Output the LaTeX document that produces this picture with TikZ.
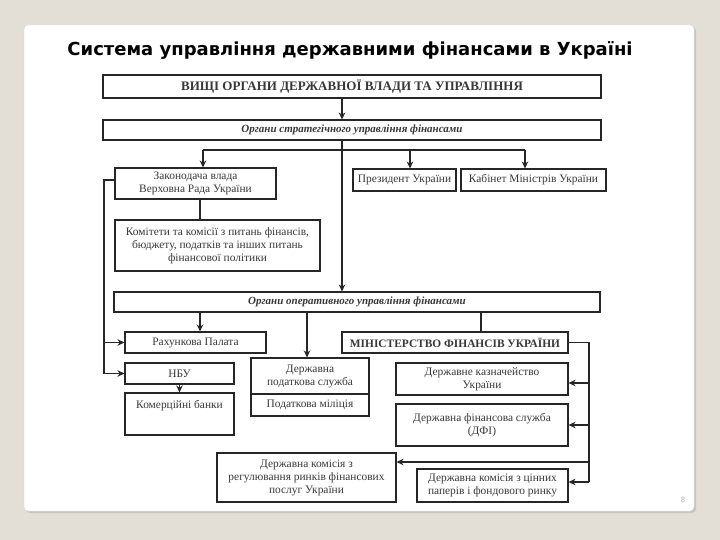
\documentclass[tikz,border=0pt]{standalone}
\usepackage{fontspec}
\setmainfont{Liberation Serif}
\newfontfamily\titlefont{DejaVu Sans}
\usetikzlibrary{arrows.meta}
\definecolor{bg}{HTML}{E3DED6}
\definecolor{ink}{HTML}{262626}
\definecolor{txt}{HTML}{383838}
\begin{document}
\begin{tikzpicture}[x=1pt,y=-1pt,
  box/.style={draw=ink, line width=1.1pt, fill=white, inner sep=1pt, align=center,
    font=\fontsize{11.4}{13}\selectfont, text=txt},
  arr/.style={draw=ink, line width=1.1pt, -{Stealth[length=7pt,width=6.5pt]}},
  ln/.style={draw=ink, line width=1.1pt}]
\fill[bg] (0,0) rectangle (720,540);
\useasboundingbox (0,0) rectangle (720,540);
% card
\fill[gray!45, rounded corners=4pt] (26,27) rectangle (696,513);
\draw[draw=gray!30, fill=white, rounded corners=4pt] (24,25) rectangle (694,511);
\node[font=\titlefont\bfseries, text=black, inner sep=0pt] (title) at (350,50)
  {\resizebox{565pt}{!}{Система управління державними фінансами в Україні}};
\node[font=\fontsize{8}{9}\selectfont, text=gray!70, inner sep=0pt] (pg) at (683,500) {8};
% boxes
\node[box, minimum width=498, minimum height=23, font=\fontsize{13}{14}\selectfont\bfseries] (top) at (352,86.5)
  {ВИЩІ ОРГАНИ ДЕРЖАВНОЇ ВЛАДИ ТА УПРАВЛІННЯ};
\node[box, minimum width=498, minimum height=20, font=\fontsize{11}{12}\selectfont\bfseries\itshape] (strat) at (352,130)
  {Органи стратегічного управління фінансами};
\node[box, minimum width=161, minimum height=31] (zak) at (195.5,183.5)
  {Законодача влада\\Верховна Рада України};
\node[box, minimum width=205, minimum height=51] (kom) at (217.5,245.5)
  {Комітети та комісії з питань фінансів,\\бюджету, податків та інших питань\\фінансової політики};
\node[box, minimum width=103, minimum height=22] (prez) at (404.5,180) {Президент України};
\node[box, minimum width=145, minimum height=22] (kab) at (533.5,180) {Кабінет Міністрів України};
\node[box, minimum width=486, minimum height=20, font=\fontsize{11}{12}\selectfont\bfseries\itshape] (oper) at (357,302)
  {Органи оперативного управління фінансами};
\node[box, minimum width=141, minimum height=21] (rah) at (195.5,342.5) {Рахункова Палата};
\node[box, minimum width=118, minimum height=36] (dps) at (310,376) {Державна\\податкова служба};
\node[box, minimum width=118, minimum height=22] (mil) at (310,405) {Податкова міліція};
\node[box, minimum width=109, minimum height=21] (nbu) at (179.5,373.5) {НБУ};
\node[box, minimum width=109, minimum height=42] (komb) at (179.5,414) {};
\node[font=\fontsize{11.4}{13}\selectfont, text=txt, anchor=north, inner sep=0pt] (kombt) at ([yshift=-8pt]komb.north) {Комерційні банки};
\node[box, minimum width=226, minimum height=21, font=\fontsize{11.4}{12}\selectfont\bfseries] (minfin) at (455,342.5)
  {МІНІСТЕРСТВО ФІНАНСІВ УКРАЇНИ};
\node[box, minimum width=172, minimum height=32] (kazn) at (482,379) {Державне казначейство\\України};
\node[box, minimum width=172, minimum height=42] (dfi) at (482,425) {Державна фінансова служба\\(ДФІ)};
\node[box, minimum width=179, minimum height=49] (nfp) at (306.5,477.5)
  {Державна комісія з\\регулювання ринків фінансових\\послуг України};
\node[box, minimum width=151, minimum height=33] (cp) at (492.5,485.5)
  {Державна комісія з цінних\\паперів і фондового ринку};
% helper coordinates
\coordinate (xa) at (342,0);
\coordinate (bl) at (203,150);
\coordinate (bp) at (410,150);
\coordinate (br) at (525,150);
\coordinate (lx) at (104,0);
\coordinate (rx) at (589,0);
\coordinate (xr) at (200,0);
\coordinate (xd) at (307,0);
\coordinate (xm) at (481,0);
\coordinate (ny) at (0,462);
\coordinate (cy) at (0,482);
\coordinate (ky) at (0,383);
% connectors
\draw[arr] (top.south -| xa) -- (strat.north -| xa);
\draw[arr] (strat.south -| xa) -- (oper.north -| xa);
\draw[ln] (bl) -- (br);
\draw[arr] (bl) -- (zak.north -| bl);
\draw[arr] (bp) -- (prez.north -| bp);
\draw[arr] (br) -- (kab.north -| br);
\draw[ln] (zak.south -| xr) -- (kom.north -| xr);
\draw[ln] ([yshift=3.5pt]zak.west) -| (lx |- nbu.west);
\draw[arr] (lx |- rah.west) -- (rah.west);
\draw[arr] (lx |- nbu.west) -- (nbu.west);
\draw[arr] (oper.south -| xr) -- (rah.north -| xr);
\draw[arr] (oper.south -| xd) -- (dps.north -| xd);
\draw[ln] (oper.south -| xm) -- (minfin.north -| xm);
\draw[arr] (nbu.south) -- (komb.north);
\draw[ln] (minfin.east) -| (rx |- cy);
\draw[arr] (rx |- ky) -- (kazn.east |- ky);
\draw[arr] (rx |- dfi.east) -- (dfi.east);
\draw[arr] (rx |- ny) -- (nfp.east |- ny);
\draw[arr] (rx |- cy) -- (cp.east |- cy);
\end{tikzpicture}
\end{document}
